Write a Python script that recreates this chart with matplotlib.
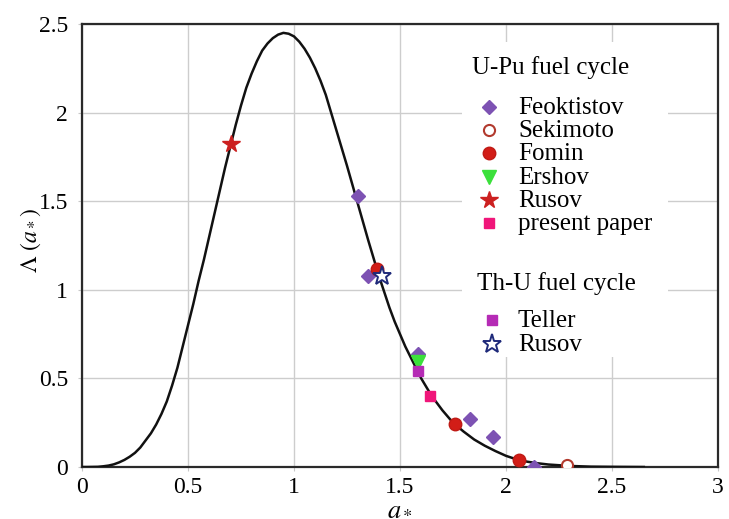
import matplotlib
matplotlib.use('Agg')
import matplotlib.pyplot as plt
from matplotlib.patches import Rectangle

plt.rcParams['font.family'] = ['Liberation Serif', 'DejaVu Serif']
plt.rcParams['mathtext.fontset'] = 'stix'

# ---- theoretical curve Lambda(a*) ----
curve_x = [0.0, 0.025, 0.05, 0.075, 0.1, 0.125, 0.15, 0.175, 0.2, 0.225, 0.25, 0.275,
           0.3, 0.325, 0.35, 0.375, 0.4, 0.425, 0.45, 0.475, 0.5, 0.525, 0.55, 0.575,
           0.6, 0.625, 0.65, 0.675, 0.7, 0.725, 0.75, 0.775, 0.8, 0.825, 0.85, 0.875,
           0.9, 0.925, 0.95, 0.975, 1.0, 1.025, 1.05, 1.075, 1.1, 1.125, 1.15, 1.175,
           1.2, 1.225, 1.25, 1.275, 1.3, 1.325, 1.35, 1.375, 1.4, 1.425, 1.45, 1.475,
           1.5, 1.525, 1.55, 1.575, 1.6, 1.625, 1.65, 1.675, 1.7, 1.75, 1.8, 1.85,
           1.9, 1.95, 2.0, 2.05, 2.1, 2.15, 2.2, 2.3, 2.4, 2.5, 2.65]
curve_y = [0.0, 0.0, 0.0005, 0.001, 0.004, 0.008, 0.015, 0.026, 0.04, 0.058, 0.08, 0.11,
           0.15, 0.19, 0.24, 0.30, 0.37, 0.46, 0.56, 0.68, 0.80, 0.92, 1.05, 1.17,
           1.30, 1.43, 1.56, 1.69, 1.81, 1.93, 2.04, 2.14, 2.22, 2.29, 2.35, 2.39,
           2.42, 2.44, 2.45, 2.445, 2.43, 2.40, 2.36, 2.31, 2.25, 2.18, 2.10, 2.00,
           1.90, 1.80, 1.70, 1.595, 1.49, 1.385, 1.28, 1.18, 1.08, 0.99, 0.90, 0.82,
           0.75, 0.68, 0.62, 0.56, 0.50, 0.45, 0.40, 0.36, 0.32, 0.25, 0.20, 0.155,
           0.12, 0.09, 0.063, 0.043, 0.03, 0.021, 0.014, 0.006, 0.002, 0.001, 0.0]

# ---- U-Pu fuel cycle data ----
feok_x = [1.30, 1.35, 1.585, 1.83, 1.94, 2.13]
feok_y = [1.53, 1.08, 0.64, 0.27, 0.17, 0.0]
sekimoto_x = [2.29]
sekimoto_y = [0.01]
fomin_x = [1.39, 1.76, 2.06]
fomin_y = [1.12, 0.24, 0.04]
ershov_x = [1.585]
ershov_y = [0.59]
rusov_upu_x = [0.703]
rusov_upu_y = [1.82]
present_x = [1.64]
present_y = [0.40]

# ---- Th-U fuel cycle data ----
teller_x = [1.585]
teller_y = [0.54]
rusov_thu_x = [1.415]
rusov_thu_y = [1.08]

xticks = [0, 0.5, 1, 1.5, 2, 2.5, 3]
xtick_labels = ['0', '0.5', '1', '1.5', '2', '2.5', '3']
yticks = [0, 0.5, 1, 1.5, 2, 2.5]
ytick_labels = ['0', '0.5', '1', '1.5', '2', '2.5']

W, H = 729, 519
fig = plt.figure(figsize=(W / 100, H / 100), dpi=100)
ax = fig.add_axes([82 / W, 1 - 467 / H, (718 - 82) / W, (467 - 24) / H])


def px(x, y):
    # pixel position -> figure fraction
    return x / W, 1 - y / H


styles = {
    'feok': dict(marker='D', ms=7, color='#7d52b3', mec='#7d52b3', ls='none'),
    'sekimoto': dict(marker='o', ms=8, color='white', mec='#b23a2e', mew=1.5, ls='none'),
    'fomin': dict(marker='o', ms=9, color='#d21d17', mec='#c01a15', ls='none'),
    'ershov': dict(marker='v', ms=9.5, color='#3be03b', mec='#3be03b', ls='none'),
    'rusov_upu': dict(marker='*', ms=13, color='#cc2020', mec='#cc2020', ls='none'),
    'present': dict(marker='s', ms=7.5, color='#f0167a', mec='#f0167a', ls='none'),
    'teller': dict(marker='s', ms=7.5, color='#b52bb5', mec='#b52bb5', ls='none'),
    'rusov_thu': dict(marker='*', ms=14, color='white', mec='#1f2a7a', mew=1.4, ls='none'),
}

ax.plot(curve_x, curve_y, color='#111111', lw=1.8, zorder=3)
ax.plot(feok_x, feok_y, zorder=4, **styles['feok'])
ax.plot(sekimoto_x, sekimoto_y, zorder=4, **styles['sekimoto'])
ax.plot(fomin_x, fomin_y, zorder=4, **styles['fomin'])
ax.plot(ershov_x, ershov_y, zorder=5, **styles['ershov'])
ax.plot(rusov_upu_x, rusov_upu_y, zorder=4, **styles['rusov_upu'])
ax.plot(present_x, present_y, zorder=4, **styles['present'])
ax.plot(teller_x, teller_y, zorder=5, **styles['teller'])
ax.plot(rusov_thu_x, rusov_thu_y, zorder=5, **styles['rusov_thu'])

ax.set_xlim(0, 3)
ax.set_ylim(0, 2.5)
ax.set_xticks(xticks)
ax.set_xticklabels(xtick_labels)
ax.set_yticks(yticks)
ax.set_yticklabels(ytick_labels)
ax.tick_params(axis='both', labelsize=17, length=3, color='#c8c8c8')
ax.tick_params(axis='y', pad=7)
ax.tick_params(axis='x', pad=4)
ax.grid(True, color='#cdcdcd', lw=1)
ax.set_axisbelow(True)
for s in ax.spines.values():
    s.set_color('#2a2a2a')
    s.set_linewidth(1.6)

fig.text(*px(31, 241), r'$\Lambda\ (a_*)$', rotation=90, fontsize=17,
         ha='center', va='center')
fig.text(*px(400, 509), r'$a_*$', fontsize=19, ha='center', va='center')

# white box behind the legend
x0, y0 = px(462, 357)
x1, y1 = px(668, 42)
ax.add_patch(Rectangle((x0, y0), x1 - x0, y1 - y0, transform=fig.transFigure,
                       facecolor='white', edgecolor='none', zorder=1))

# legend block, laid out row by row
fs = 18
fig.text(*px(472, 74), 'U-Pu fuel cycle', fontsize=fs, va='baseline')
upu_rows = [('feok', 'Feoktistov'), ('sekimoto', 'Sekimoto'), ('fomin', 'Fomin'),
            ('ershov', 'Ershov'), ('rusov_upu', 'Rusov'), ('present', 'present paper')]
for i, (key, label) in enumerate(upu_rows):
    base = 114 + 23.2 * i
    mx, my = px(489, base - 7)
    ax.plot([mx], [my], transform=fig.transFigure, clip_on=False, zorder=6, **styles[key])
    fig.text(*px(518, base), label, fontsize=fs, va='baseline')

fig.text(*px(477, 290), 'Th-U fuel cycle', fontsize=fs, va='baseline')
thu_rows = [('teller', 'Teller'), ('rusov_thu', 'Rusov')]
for i, (key, label) in enumerate(thu_rows):
    base = 327 + 24 * i
    mx, my = px(492, base - 7)
    ax.plot([mx], [my], transform=fig.transFigure, clip_on=False, zorder=6, **styles[key])
    fig.text(*px(518, base), label, fontsize=fs, va='baseline')

fig.savefig('out.png', dpi=100)
